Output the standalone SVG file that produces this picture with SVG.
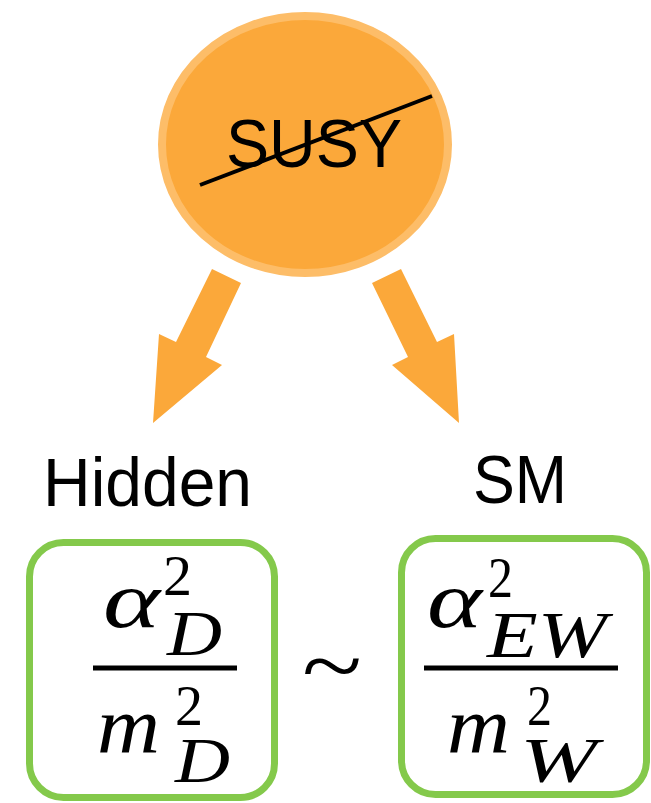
<svg xmlns="http://www.w3.org/2000/svg" width="651" height="803" viewBox="0 0 651 803">
<style>
.lbl{font-family:"Liberation Sans",Arial,sans-serif;fill:#000}
.m{font-family:"Liberation Serif","Times New Roman",serif;fill:#000}
.i{font-style:italic}
.box{fill:#fff;stroke:#84C94B;stroke-width:7}
.arrow{fill:#FBA83A}
</style>
<rect width="651" height="803" fill="#fff"/>
<g id="susy">
<ellipse cx="305" cy="144.5" rx="143" ry="128.5" fill="#FBA83A" stroke="#FDBD68" stroke-width="8"/>
<text class="lbl" x="226" y="167" font-size="68" textLength="176" lengthAdjust="spacingAndGlyphs">SUSY</text>
<line x1="200" y1="185" x2="432" y2="96" stroke="#000" stroke-width="4"/>
</g>
<g id="connectors">
<polygon class="arrow" points="212,269 241,283 206,357 222,365 153,423 159,334 176,342"/>
<polygon class="arrow" points="401,269 372,283 408,357 392,365 459,423 454,334 437,342"/>
</g>
<g id="hidden">
<text class="lbl" x="43" y="506" font-size="68" textLength="209" lengthAdjust="spacingAndGlyphs">Hidden</text>
<rect class="box" x="29.5" y="542.5" width="245" height="255" rx="34"/>
<text class="m"><tspan class="i" x="103" y="627" font-size="80" textLength="57" lengthAdjust="spacingAndGlyphs">α</tspan><tspan x="163" y="595" font-size="58" textLength="29" lengthAdjust="spacingAndGlyphs">2</tspan><tspan class="i" x="167" y="655" font-size="63" textLength="55" lengthAdjust="spacingAndGlyphs">D</tspan></text>
<rect x="93" y="665.5" width="144" height="5" fill="#000"/>
<text class="m"><tspan class="i" x="97" y="752" font-size="80" textLength="63" lengthAdjust="spacingAndGlyphs">m</tspan><tspan x="175" y="725" font-size="58" textLength="28" lengthAdjust="spacingAndGlyphs">2</tspan><tspan class="i" x="175" y="782" font-size="63" textLength="55" lengthAdjust="spacingAndGlyphs">D</tspan></text>
</g>
<g id="tilde">
<text class="m" x="302" y="696" font-size="90" textLength="60" lengthAdjust="spacingAndGlyphs">~</text>
</g>
<g id="sm">
<text class="lbl" x="473" y="503" font-size="68" textLength="94" lengthAdjust="spacingAndGlyphs">SM</text>
<rect class="box" x="401.5" y="538.5" width="245" height="256" rx="34"/>
<text class="m"><tspan class="i" x="427" y="627" font-size="80" textLength="55" lengthAdjust="spacingAndGlyphs">α</tspan><tspan x="488" y="597" font-size="58" textLength="25" lengthAdjust="spacingAndGlyphs">2</tspan><tspan class="i" x="487" y="657" font-size="66" textLength="120" lengthAdjust="spacingAndGlyphs">EW</tspan></text>
<rect x="424" y="665.5" width="194" height="5" fill="#000"/>
<text class="m"><tspan class="i" x="447" y="752" font-size="80" textLength="63" lengthAdjust="spacingAndGlyphs">m</tspan><tspan x="527" y="725" font-size="58" textLength="25" lengthAdjust="spacingAndGlyphs">2</tspan><tspan class="i" x="520" y="782" font-size="63" textLength="77" lengthAdjust="spacingAndGlyphs">W</tspan></text>
</g>
</svg>
